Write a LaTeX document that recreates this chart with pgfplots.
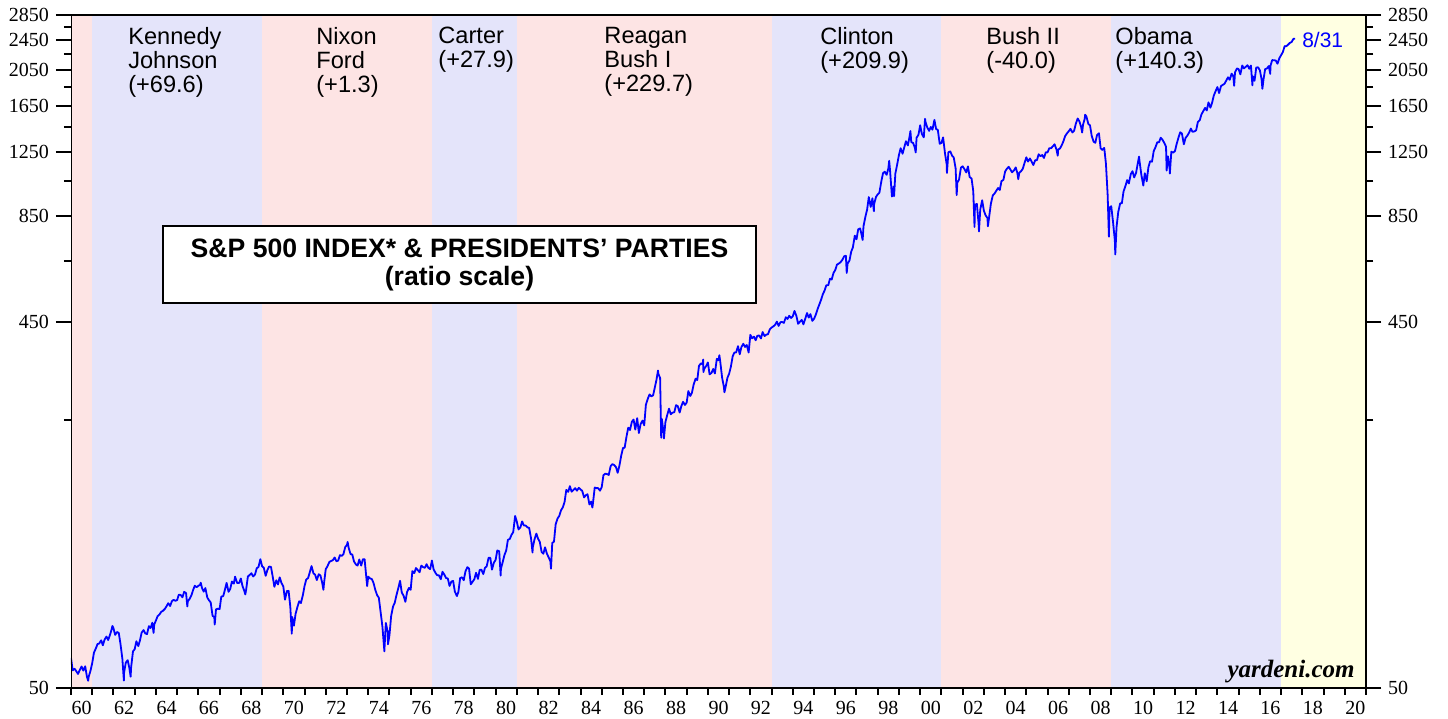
\documentclass[border=0pt]{standalone}
\usepackage{fontspec}
\setmainfont{Liberation Serif}
\newfontfamily\hv{Liberation Sans}
\usepackage{pgfplots}
\pgfplotsset{compat=1.18}
\definecolor{rep}{RGB}{253,228,228}
\definecolor{dem}{RGB}{228,228,250}
\definecolor{trp}{RGB}{255,255,226}
\begin{document}
\begin{tikzpicture}
\begin{axis}[name=ax, axis on top,
  scale only axis, width=647.5pt, height=336.5pt,
  ymode=log, xmin=1960, xmax=2021, ymin=50, ymax=2850,
  tick align=outside,
  tick style={black, line width=1pt},
  yticklabel style={font=\fontsize{10}{12}\selectfont},
  ytick={50,450,850,1250,1650,2050,2450,2850},
  yticklabels={50,450,850,1250,1650,2050,2450,2850},
  minor ytick={250,650,1050,1450,1850,2250,2650},
  ytick pos=both, yticklabel pos=left,
  major tick length=7.5pt, minor tick length=3.5pt,
  xtick=\empty]
\addplot[fill=rep, draw=none] coordinates {(1960,50)(1961,50)(1961,2850)(1960,2850)};
\addplot[fill=dem, draw=none] coordinates {(1961,50)(1969,50)(1969,2850)(1961,2850)};
\addplot[fill=rep, draw=none] coordinates {(1969,50)(1977,50)(1977,2850)(1969,2850)};
\addplot[fill=dem, draw=none] coordinates {(1977,50)(1981,50)(1981,2850)(1977,2850)};
\addplot[fill=rep, draw=none] coordinates {(1981,50)(1993,50)(1993,2850)(1981,2850)};
\addplot[fill=dem, draw=none] coordinates {(1993,50)(2001,50)(2001,2850)(1993,2850)};
\addplot[fill=rep, draw=none] coordinates {(2001,50)(2009,50)(2009,2850)(2001,2850)};
\addplot[fill=dem, draw=none] coordinates {(2009,50)(2017,50)(2017,2850)(2009,2850)};
\addplot[fill=trp, draw=none] coordinates {(2017,50)(2021,50)(2021,2850)(2017,2850)};
\addplot[blue, line width=0.9pt, line join=round] coordinates {
(1960.00,59.9) (1960.08,55.6) (1960.17,56.1) (1960.25,55.3) (1960.33,54.4) (1960.42,55.8) (1960.50,56.9) (1960.58,55.5) (1960.67,56.96) (1960.75,53.5) (1960.81,52.2) (1960.83,53.4) (1960.92,55.5) (1961.00,58.1)
(1961.08,61.8) (1961.17,63.4) (1961.25,65.1) (1961.33,65.3) (1961.42,66.6) (1961.50,64.6) (1961.58,66.8) (1961.67,68.1) (1961.75,66.7) (1961.83,68.6) (1961.92,71.3) (1961.95,72.6) (1962.00,71.6)
(1962.08,68.8) (1962.17,70.0) (1962.25,69.6) (1962.33,65.2) (1962.42,59.6) (1962.49,52.3) (1962.50,54.8) (1962.58,58.2) (1962.67,59.1) (1962.75,56.3) (1962.81,53.5) (1962.83,56.5) (1962.92,62.3) (1963.00,63.1)
(1963.08,66.2) (1963.17,64.3) (1963.25,66.6) (1963.33,69.8) (1963.42,70.8) (1963.50,69.4) (1963.58,69.1) (1963.67,72.5) (1963.75,71.7) (1963.83,74.0) (1963.89,69.6) (1963.92,73.2) (1964.00,75.0)
(1964.08,77.0) (1964.17,77.8) (1964.25,79.0) (1964.33,79.5) (1964.42,80.4) (1964.50,81.7) (1964.58,83.2) (1964.67,81.8) (1964.75,84.2) (1964.83,84.9) (1964.92,84.4) (1965.00,84.8)
(1965.08,87.6) (1965.17,87.4) (1965.25,86.2) (1965.33,89.1) (1965.42,88.4) (1965.48,81.6) (1965.50,84.1) (1965.58,85.3) (1965.67,87.2) (1965.75,90.0) (1965.83,92.4) (1965.92,91.6) (1966.00,92.4)
(1966.08,92.9) (1966.11,94.1) (1966.17,91.2) (1966.25,89.2) (1966.33,91.1) (1966.42,86.1) (1966.50,84.7) (1966.58,83.6) (1966.67,77.1) (1966.75,76.6) (1966.77,73.2) (1966.83,80.2) (1966.92,80.5) (1967.00,80.3)
(1967.08,86.6) (1967.17,86.8) (1967.25,90.2) (1967.33,94.0) (1967.42,89.1) (1967.50,90.6) (1967.58,94.8) (1967.67,93.6) (1967.73,97.6) (1967.75,96.7) (1967.83,93.9) (1967.92,94.0) (1968.00,96.5)
(1968.08,92.2) (1968.17,89.4) (1968.21,87.7) (1968.25,90.2) (1968.33,97.6) (1968.42,98.7) (1968.50,99.6) (1968.58,97.7) (1968.67,98.9) (1968.75,102.7) (1968.83,103.4) (1968.92,108.4) (1969.00,103.9)
(1969.08,103.0) (1969.17,98.1) (1969.25,101.5) (1969.33,103.7) (1969.42,103.5) (1969.50,97.7) (1969.58,91.8) (1969.67,95.5) (1969.75,93.1) (1969.83,97.2) (1969.92,93.8) (1970.00,92.1)
(1970.08,85.0) (1970.17,89.5) (1970.25,89.6) (1970.33,81.5) (1970.40,69.3) (1970.42,76.6) (1970.50,72.7) (1970.58,78.1) (1970.67,81.5) (1970.75,84.2) (1970.83,83.3) (1970.92,87.2) (1971.00,92.2)
(1971.08,95.9) (1971.17,96.8) (1971.25,100.3) (1971.33,104.0) (1971.42,99.6) (1971.50,98.7) (1971.58,95.6) (1971.67,99.0) (1971.75,98.3) (1971.83,94.2) (1971.89,90.2) (1971.92,94.0) (1972.00,102.1)
(1972.08,103.9) (1972.17,106.6) (1972.25,107.2) (1972.33,107.7) (1972.42,109.5) (1972.50,107.1) (1972.58,107.4) (1972.67,111.1) (1972.75,110.6) (1972.83,111.6) (1972.92,116.7) (1973.00,118.1)
(1973.03,120.2) (1973.08,116.0) (1973.17,111.7) (1973.25,111.5) (1973.33,107.0) (1973.42,105.0) (1973.50,104.3) (1973.58,108.2) (1973.67,104.3) (1973.75,108.4) (1973.83,108.3) (1973.92,96.0) (1973.95,92.2) (1974.00,97.6)
(1974.08,96.6) (1974.17,96.2) (1974.25,94.0) (1974.33,90.3) (1974.42,87.3) (1974.50,86.0) (1974.58,79.3) (1974.67,72.2) (1974.75,63.5) (1974.76,62.3) (1974.83,73.9) (1974.92,70.0) (1974.93,65.0) (1975.00,68.6)
(1975.08,77.0) (1975.17,81.6) (1975.25,83.4) (1975.33,87.3) (1975.42,91.2) (1975.50,95.2) (1975.58,88.8) (1975.67,86.9) (1975.75,83.9) (1975.83,89.0) (1975.92,91.2) (1976.00,90.2)
(1976.08,100.9) (1976.17,99.7) (1976.25,102.8) (1976.33,101.6) (1976.42,100.2) (1976.50,104.3) (1976.58,103.4) (1976.67,102.9) (1976.75,105.2) (1976.83,102.9) (1976.92,102.1) (1977.00,107.5)
(1977.08,102.0) (1977.17,99.8) (1977.25,98.4) (1977.33,98.4) (1977.42,96.1) (1977.50,100.5) (1977.58,98.9) (1977.67,96.8) (1977.75,96.5) (1977.83,92.3) (1977.92,94.8) (1978.00,95.1)
(1978.08,89.3) (1978.17,87.0) (1978.18,86.9) (1978.25,89.2) (1978.33,96.8) (1978.42,97.2) (1978.50,95.5) (1978.58,100.7) (1978.67,103.3) (1978.75,102.5) (1978.83,93.2) (1978.92,94.7) (1979.00,96.1)
(1979.08,99.9) (1979.17,96.3) (1979.25,101.6) (1979.33,101.8) (1979.42,99.1) (1979.50,102.9) (1979.58,103.8) (1979.67,109.3) (1979.75,109.3) (1979.83,101.8) (1979.92,106.2) (1980.00,107.9)
(1980.08,114.2) (1980.17,113.7) (1980.24,98.2) (1980.25,102.1) (1980.33,106.3) (1980.42,111.2) (1980.50,114.2) (1980.58,121.7) (1980.67,122.4) (1980.75,125.5) (1980.83,127.5) (1980.92,140.5) (1981.00,135.8)
(1981.08,129.6) (1981.17,131.3) (1981.25,136.0) (1981.33,132.8) (1981.42,132.6) (1981.50,131.2) (1981.58,130.9) (1981.67,122.8) (1981.74,112.8) (1981.75,116.2) (1981.83,121.9) (1981.92,126.4) (1982.00,122.6)
(1982.08,120.4) (1982.17,113.1) (1982.25,112.0) (1982.33,116.4) (1982.42,111.9) (1982.50,109.6) (1982.58,107.1) (1982.61,102.4) (1982.67,119.5) (1982.75,120.4) (1982.83,133.7) (1982.92,138.5) (1983.00,140.6)
(1983.08,145.3) (1983.17,148.1) (1983.25,153.0) (1983.33,164.4) (1983.42,162.4) (1983.50,168.1) (1983.58,162.6) (1983.67,164.4) (1983.75,166.1) (1983.83,163.6) (1983.92,166.4) (1984.00,164.9)
(1984.08,163.4) (1984.17,157.1) (1984.25,159.2) (1984.33,160.1) (1984.42,150.6) (1984.50,153.2) (1984.56,147.8) (1984.58,150.7) (1984.67,166.7) (1984.75,166.1) (1984.83,166.1) (1984.92,163.6) (1985.00,167.2)
(1985.08,179.6) (1985.17,181.2) (1985.25,180.7) (1985.33,179.8) (1985.42,189.6) (1985.50,191.9) (1985.58,190.9) (1985.67,188.6) (1985.75,182.1) (1985.83,189.8) (1985.92,202.2) (1986.00,211.3)
(1986.08,211.8) (1986.17,226.9) (1986.25,238.9) (1986.33,235.5) (1986.42,247.4) (1986.50,250.8) (1986.58,236.1) (1986.67,252.9) (1986.75,231.3) (1986.83,244.0) (1986.92,249.2) (1987.00,242.2)
(1987.08,274.1) (1987.17,284.2) (1987.25,291.7) (1987.33,288.4) (1987.42,290.1) (1987.50,304.0) (1987.58,318.7) (1987.65,336.8) (1987.67,329.8) (1987.75,321.8) (1987.80,224.8) (1987.83,251.8) (1987.92,230.3) (1987.93,223.9) (1988.00,247.1)
(1988.08,257.1) (1988.17,267.8) (1988.25,258.9) (1988.33,261.3) (1988.42,262.2) (1988.50,273.5) (1988.58,272.0) (1988.67,261.5) (1988.75,271.9) (1988.83,279.0) (1988.92,273.7) (1989.00,277.7)
(1989.08,297.5) (1989.17,288.9) (1989.25,294.9) (1989.33,309.6) (1989.42,320.5) (1989.50,318.0) (1989.58,346.1) (1989.67,351.5) (1989.75,349.2) (1989.78,359.8) (1989.79,333.7) (1989.83,340.4) (1989.92,346.0) (1990.00,353.4)
(1990.08,329.1) (1990.17,331.9) (1990.25,339.9) (1990.33,330.8) (1990.42,361.2) (1990.50,358.0) (1990.54,369.0) (1990.58,356.2) (1990.67,322.6) (1990.75,306.1) (1990.78,295.5) (1990.83,304.0) (1990.92,322.2) (1991.00,330.2)
(1991.08,343.9) (1991.17,367.1) (1991.25,375.2) (1991.33,375.4) (1991.42,389.8) (1991.50,371.2) (1991.58,387.8) (1991.67,395.4) (1991.75,387.9) (1991.83,392.5) (1991.92,375.2) (1992.00,417.1)
(1992.08,408.8) (1992.17,412.7) (1992.25,403.7) (1992.33,415.0) (1992.42,415.4) (1992.50,408.1) (1992.58,424.2) (1992.67,414.0) (1992.75,417.8) (1992.83,418.7) (1992.92,431.4) (1993.00,435.7)
(1993.08,438.8) (1993.17,443.4) (1993.25,451.7) (1993.33,440.2) (1993.42,450.2) (1993.50,450.5) (1993.58,448.1) (1993.67,463.6) (1993.75,458.9) (1993.83,467.8) (1993.92,461.8) (1994.00,466.5)
(1994.08,481.6) (1994.17,467.1) (1994.25,445.8) (1994.33,450.9) (1994.42,456.5) (1994.50,444.3) (1994.58,458.3) (1994.67,475.5) (1994.75,462.7) (1994.83,472.4) (1994.92,453.7) (1995.00,459.3)
(1995.08,470.4) (1995.17,487.4) (1995.25,500.7) (1995.33,514.7) (1995.42,533.4) (1995.50,544.8) (1995.58,562.1) (1995.67,561.9) (1995.75,584.4) (1995.83,581.5) (1995.92,605.4) (1996.00,615.9)
(1996.08,636.0) (1996.17,640.4) (1996.25,645.5) (1996.33,654.2) (1996.42,669.1) (1996.50,670.6) (1996.54,605.2) (1996.58,640.0) (1996.67,652.0) (1996.75,687.3) (1996.83,705.3) (1996.92,757.0) (1997.00,740.7)
(1997.08,786.2) (1997.17,790.8) (1997.25,757.1) (1997.29,737.7) (1997.33,801.3) (1997.42,848.3) (1997.50,885.1) (1997.58,954.3) (1997.67,899.5) (1997.75,947.3) (1997.82,876.9) (1997.83,914.6) (1997.92,955.4) (1998.00,970.4)
(1998.08,980.3) (1998.17,1049.3) (1998.25,1101.8) (1998.33,1111.8) (1998.42,1090.8) (1998.50,1133.8) (1998.54,1186.8) (1998.58,1120.7) (1998.67,957.3) (1998.75,1017.0) (1998.77,959.4) (1998.83,1098.7) (1998.92,1163.6) (1999.00,1229.2)
(1999.08,1279.6) (1999.17,1238.3) (1999.25,1286.4) (1999.33,1335.2) (1999.42,1301.8) (1999.50,1372.7) (1999.54,1418.8) (1999.58,1328.7) (1999.67,1320.4) (1999.75,1282.7) (1999.79,1247.4) (1999.83,1362.9) (1999.92,1388.9) (2000.00,1469.3)
(2000.08,1394.5) (2000.17,1366.4) (2000.23,1527.5) (2000.25,1498.6) (2000.33,1452.4) (2000.42,1420.6) (2000.50,1454.6) (2000.58,1430.8) (2000.67,1517.7) (2000.75,1436.5) (2000.83,1429.4) (2000.92,1315.0) (2001.00,1320.3)
(2001.08,1366.0) (2001.17,1239.9) (2001.25,1160.3) (2001.26,1103.3) (2001.33,1249.5) (2001.42,1255.8) (2001.50,1224.4) (2001.58,1211.2) (2001.67,1133.6) (2001.72,965.8) (2001.75,1040.9) (2001.83,1059.8) (2001.92,1139.5) (2002.00,1148.1)
(2002.08,1130.2) (2002.17,1106.7) (2002.25,1147.4) (2002.33,1076.9) (2002.42,1067.1) (2002.50,989.8) (2002.56,797.7) (2002.58,911.6) (2002.67,916.1) (2002.75,815.3) (2002.77,776.8) (2002.83,885.8) (2002.92,936.3) (2003.00,879.8)
(2003.08,855.7) (2003.17,841.2) (2003.19,800.7) (2003.25,848.2) (2003.33,916.9) (2003.42,963.6) (2003.50,974.5) (2003.58,990.3) (2003.67,1008.0) (2003.75,996.0) (2003.83,1050.7) (2003.92,1058.2) (2004.00,1111.9)
(2004.08,1131.1) (2004.17,1144.9) (2004.25,1126.2) (2004.33,1107.3) (2004.42,1120.7) (2004.50,1140.8) (2004.58,1101.7) (2004.62,1063.2) (2004.67,1104.2) (2004.75,1114.6) (2004.83,1130.2) (2004.92,1173.8) (2005.00,1211.9)
(2005.08,1181.3) (2005.17,1203.6) (2005.25,1180.6) (2005.33,1156.9) (2005.42,1191.5) (2005.50,1191.3) (2005.58,1234.2) (2005.67,1220.3) (2005.75,1228.8) (2005.83,1207.0) (2005.92,1249.5) (2006.00,1248.3)
(2006.08,1280.1) (2006.17,1280.7) (2006.25,1294.8) (2006.33,1310.6) (2006.42,1270.1) (2006.48,1223.7) (2006.50,1270.2) (2006.58,1276.7) (2006.67,1303.8) (2006.75,1335.9) (2006.83,1377.9) (2006.92,1400.6) (2007.00,1418.3)
(2007.08,1438.2) (2007.17,1406.8) (2007.25,1420.9) (2007.33,1482.4) (2007.42,1530.6) (2007.50,1503.4) (2007.58,1455.3) (2007.63,1406.7) (2007.67,1474.0) (2007.75,1526.8) (2007.77,1565.2) (2007.83,1549.4) (2007.92,1481.1) (2008.00,1468.4)
(2008.08,1378.6) (2008.17,1330.6) (2008.25,1322.7) (2008.33,1385.6) (2008.42,1400.4) (2008.50,1280.0) (2008.58,1267.4) (2008.67,1282.8) (2008.75,1166.4) (2008.83,968.8) (2008.89,752.4) (2008.92,896.2) (2009.00,903.3)
(2009.08,825.9) (2009.17,735.1) (2009.19,676.5) (2009.25,797.9) (2009.33,872.8) (2009.42,919.1) (2009.50,919.3) (2009.58,987.5) (2009.67,1020.6) (2009.75,1057.1) (2009.83,1036.2) (2009.92,1095.6) (2010.00,1115.1)
(2010.08,1073.9) (2010.17,1104.5) (2010.25,1169.4) (2010.31,1217.3) (2010.33,1186.7) (2010.42,1089.4) (2010.50,1030.7) (2010.51,1022.6) (2010.58,1101.6) (2010.67,1049.3) (2010.75,1141.2) (2010.83,1183.3) (2010.92,1180.6) (2011.00,1257.6)
(2011.08,1286.1) (2011.17,1327.2) (2011.25,1325.8) (2011.33,1363.6) (2011.42,1345.2) (2011.50,1320.6) (2011.58,1292.3) (2011.61,1119.5) (2011.67,1218.9) (2011.75,1131.4) (2011.76,1099.2) (2011.83,1253.3) (2011.92,1247.0) (2012.00,1257.6)
(2012.08,1312.4) (2012.17,1365.7) (2012.25,1408.5) (2012.33,1397.9) (2012.42,1310.3) (2012.50,1362.2) (2012.58,1379.3) (2012.67,1406.6) (2012.75,1440.7) (2012.83,1412.2) (2012.92,1416.2) (2013.00,1426.2)
(2013.08,1498.1) (2013.17,1514.7) (2013.25,1569.2) (2013.33,1597.6) (2013.42,1630.7) (2013.50,1606.3) (2013.58,1685.7) (2013.67,1633.0) (2013.75,1681.6) (2013.83,1756.5) (2013.92,1805.8) (2014.00,1848.4)
(2014.08,1782.6) (2014.17,1859.5) (2014.25,1872.3) (2014.33,1884.0) (2014.42,1923.6) (2014.50,1960.2) (2014.58,1930.7) (2014.67,2003.4) (2014.75,1972.3) (2014.79,1862.5) (2014.83,2018.1) (2014.92,2067.6) (2015.00,2058.9)
(2015.08,1995.0) (2015.17,2104.5) (2015.25,2067.9) (2015.33,2085.5) (2015.42,2107.4) (2015.50,2063.1) (2015.58,2103.8) (2015.65,1867.6) (2015.67,1972.2) (2015.75,1920.0) (2015.83,2079.4) (2015.92,2080.4) (2016.00,2043.9)
(2016.08,1940.2) (2016.12,1829.1) (2016.17,1932.2) (2016.25,2059.7) (2016.33,2065.3) (2016.42,2097.0) (2016.49,2000.5) (2016.50,2098.9) (2016.58,2173.6) (2016.67,2171.0) (2016.75,2168.3) (2016.83,2126.2) (2016.92,2198.8) (2017.00,2238.8)
(2017.08,2278.9) (2017.17,2363.6) (2017.25,2362.7) (2017.33,2384.2) (2017.42,2411.8) (2017.50,2423.4) (2017.58,2470.3) (2017.66,2471.7)
};
\node[draw, line width=1pt, fill=white, minimum width=296.5pt, minimum height=38.5pt, align=center,
  font=\hv\bfseries\fontsize{13.3}{14}\selectfont] at (axis cs:1978.30,636)
  {S\&P 500 INDEX* \& PRESIDENTS’ PARTIES\\(ratio scale)};
\node[anchor=north west, align=left, inner sep=0pt, font=\hv\fontsize{11.8}{12}\selectfont] at (axis cs:1962.68,2650) {Kennedy\\Johnson\\(+69.6)};
\node[anchor=north west, align=left, inner sep=0pt, font=\hv\fontsize{11.8}{12}\selectfont] at (axis cs:1971.54,2650) {Nixon\\Ford\\(+1.3)};
\node[anchor=north west, align=left, inner sep=0pt, font=\hv\fontsize{11.8}{12}\selectfont] at (axis cs:1977.29,2650) {Carter\\(+27.9)};
\node[anchor=north west, align=left, inner sep=0pt, font=\hv\fontsize{11.8}{12}\selectfont] at (axis cs:1985.11,2650) {Reagan\\Bush I\\(+229.7)};
\node[anchor=north west, align=left, inner sep=0pt, font=\hv\fontsize{11.8}{12}\selectfont] at (axis cs:1995.28,2650) {Clinton\\(+209.9)};
\node[anchor=north west, align=left, inner sep=0pt, font=\hv\fontsize{11.8}{12}\selectfont] at (axis cs:2003.10,2650) {Bush II\\(-40.0)};
\node[anchor=north west, align=left, inner sep=0pt, font=\hv\fontsize{11.8}{12}\selectfont] at (axis cs:2009.18,2650) {Obama\\(+140.3)};
\node[anchor=west, inner sep=0pt, text=blue, font=\hv\fontsize{10.5}{12}\selectfont] at (axis cs:2017.98,2450) {8/31};
\node[anchor=base east, inner sep=0pt, font=\bfseries\itshape\fontsize{12.5}{14}\selectfont] at (axis cs:2020.48,53.1) {yardeni.com};
\end{axis}
\begin{axis}[
  scale only axis, width=647.5pt, height=336.5pt,
  ymode=log, xmin=1960, xmax=2021, ymin=50, ymax=2850,
  tick align=outside,
  tick style={black, line width=1pt},
  yticklabel style={font=\fontsize{10}{12}\selectfont},
  ytick={50,450,850,1250,1650,2050,2450,2850},
  yticklabels={50,450,850,1250,1650,2050,2450,2850},
  minor ytick={250,650,1050,1450,1850,2250,2650},
  ytick pos=right, yticklabel pos=right,
  major tick length=7.5pt, minor tick length=3.5pt,
  xtick=\empty]
\end{axis}
\begin{axis}[
  scale only axis, width=647.5pt, height=336.5pt,
  ymode=log, xmin=1960, xmax=2021, ymin=50, ymax=2850,
  tick align=outside,
  tick style={black, line width=1pt},
  xticklabel style={font=\fontsize{10}{12}\selectfont, inner sep=0.8pt, xshift=5.307pt, yshift=-2.3pt},
  ytick=\empty,
  xtick={1960,1962,...,2020},
  xticklabels={60,62,64,66,68,70,72,74,76,78,80,82,84,86,88,90,92,94,96,98,00,02,04,06,08,10,12,14,16,18,20},
  minor xtick={1961,1963,...,2021},
  xtick pos=bottom,
  major tick length=3.5pt, minor tick length=3.5pt]
\draw[line width=1.3pt] (rel axis cs:0,0) rectangle (rel axis cs:1,1);
\end{axis}
\pgfresetboundingbox
\path[use as bounding box] ([shift={(-35.5pt,-15.5pt)}]ax.south west) rectangle ([shift={(41pt,7.5pt)}]ax.north east);
\end{tikzpicture}
\end{document}
